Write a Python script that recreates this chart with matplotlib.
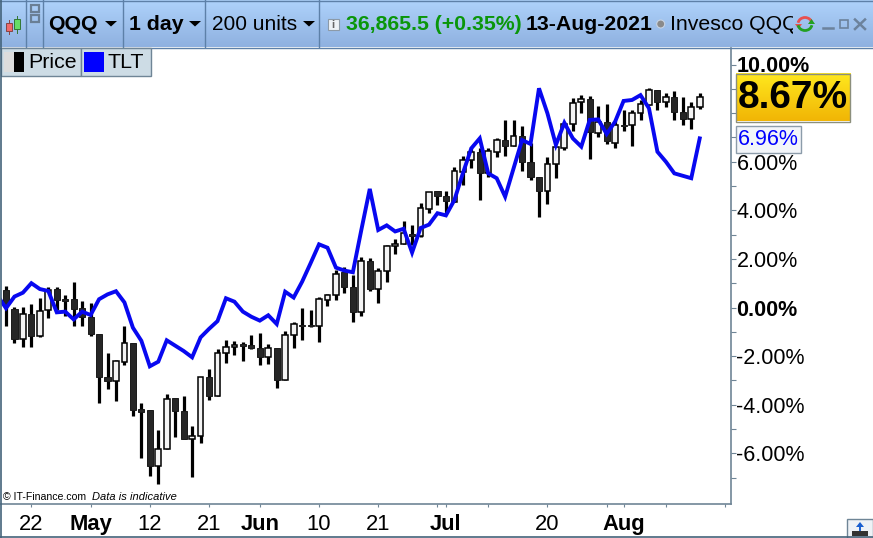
import numpy as np
import matplotlib
matplotlib.use("Agg")
import matplotlib.pyplot as plt
from matplotlib.patches import Rectangle, Polygon, Circle, Arc

plt.rcParams['font.family'] = ['Liberation Sans', 'DejaVu Sans']

# ---------- data (percent change) ----------
opens = [.72,-.08,-1.31,-.28,-1.19,-.12,.76,.35,.34,-.03,-.40,-1.09,-2.85,-3.04,-2.23,-1.46,-4.16,-4.22,-6.54,-5.84,
         -3.72,-4.27,-5.43,-5.30,-2.87,-3.66,-1.89,-1.63,-1.50,-1.54,-1.67,-2.05,-1.67,-3.00,-1.13,-.72,-.72,-.77,.32,.50,
         1.45,.86,-.20,1.91,.75,1.49,2.52,2.60,3.02,2.93,4.07,4.79,4.59,4.35,5.59,6.07,6.40,5.53,6.41,6.89,
         6.63,7.05,5.99,5.36,4.78,5.89,6.58,7.54,8.44,8.57,7.19,7.65,6.78,7.51,7.50,7.99,8.35,8.95,8.44,8.65,
         8.05,7.74,8.26]
closes = [.10,-1.30,-.28,-1.17,-.13,.72,.31,.28,-.05,-.38,-1.08,-2.85,-3.01,-2.22,-1.47,-4.20,-4.29,-6.51,-5.84,-3.78,
          -4.25,-5.41,-5.30,-2.87,-3.63,-1.89,-1.64,-1.56,-1.60,-1.65,-2.02,-1.68,-2.98,-1.15,-.69,-.75,-.75,.35,.50,1.37,
          .86,-.17,1.90,.76,1.49,2.52,2.60,3.05,2.94,4.08,4.74,4.59,4.40,5.60,6.07,6.39,5.55,6.44,6.89,6.65,
          7.05,5.99,5.38,4.81,5.89,6.59,7.54,8.40,8.57,7.23,7.65,6.85,7.50,7.48,7.99,8.36,8.95,8.47,8.65,8.06,
          7.76,8.26,8.67]
highs = [.89,.04,.04,.14,.39,.83,.83,.52,1.04,.25,.17,-1.09,-1.89,-2.16,-.76,-1.46,-3.94,-4.22,-5.04,-3.57,
         -3.72,-3.64,-4.88,-2.87,-2.53,-1.71,-1.34,-1.38,-1.43,-1.13,-1.05,-1.52,-1.67,-.97,-.61,-.03,-.10,.43,.54,1.54,
         1.65,1.34,2.07,2.05,1.61,2.57,2.82,3.56,3.40,4.29,4.77,4.79,4.79,5.77,6.23,6.60,6.56,6.56,6.96,7.72,
         7.72,7.47,6.77,5.36,6.18,6.60,7.65,8.62,8.73,8.69,8.29,8.37,7.72,8.13,8.13,8.54,9.02,8.95,8.81,8.91,
         8.65,8.44,8.81]
lows = [-.75,-1.47,-1.61,-1.61,-1.20,-.42,-.10,-.34,-.75,-.75,-1.16,-3.92,-3.34,-3.83,-2.35,-4.45,-6.18,-6.92,-7.25,-5.84,
        -5.32,-5.43,-6.96,-5.56,-3.79,-3.66,-2.27,-1.94,-2.19,-1.72,-2.35,-2.31,-3.30,-3.00,-1.65,-1.34,-.81,-1.41,.07,.32,
        .61,-.58,-.34,.69,.20,1.06,2.21,2.60,2.57,2.91,3.90,4.22,3.88,4.35,5.04,5.73,4.42,5.36,6.21,6.23,
        6.63,5.62,5.25,3.74,4.26,5.34,6.48,7.26,8.02,6.11,7.03,6.73,6.56,7.26,6.65,7.72,8.33,8.13,8.26,7.72,
        7.51,7.35,8.17]
tlt_leading = [.49]
tlt = [-.03,.45,.61,1.00,.76,.68,-.20,-.17,-.49,-.17,-.31,.34,.54,.67,.21,-.83,-1.37,-2.42,-2.23,-1.35,
       -1.57,-1.79,-2.05,-1.23,-.88,-.56,.38,.24,-.17,-.38,-.54,-.32,-.68,.65,.41,1.06,1.82,2.60,2.46,1.64,
       1.52,1.45,3.19,4.88,3.19,3.38,3.13,3.24,2.26,3.27,3.41,3.88,3.79,4.42,5.52,6.55,6.96,5.52,5.32,4.56,
       5.73,6.89,6.73,9.02,7.99,6.69,7.60,6.96,6.62,7.72,7.74,7.14,7.65,8.50,8.54,8.74,8.20,6.41,6.00,5.52,
       5.42,5.32,6.96]

x_ticks = [3,10,17,24,30,37,44,51,52,57,64,71,73,78,85]
x_labels = ['22','May','12','21','Jun','10','21','','Jul','','20','','Aug','','']
y_ticks = [-6,-4,-2,0,2,4,6,8,10]
y_labels = ['-6.00%','-4.00%','-2.00%','0.00%','2.00%','4.00%','6.00%','','10.00%']
bold_labels = ['May','Jun','Jul','Aug','0.00%','10.00%']

W, H = 873, 538
fig = plt.figure(figsize=(W/100, H/100), dpi=100, facecolor='white')

# ---------- main chart ----------
L, R, T, B = 1.0, 730.5, 48.0, 503.5
ax = fig.add_axes([L/W, 1-B/H, (R-L)/W, (B-T)/H])
ax.set_xlim((L-6)/8.46, (R-6)/8.46)
ax.set_ylim((307.5-B)/24.3, (307.5-T)/24.3)

idx = np.arange(len(opens))
o, c, h, l = map(np.array, (opens, closes, highs, lows))
up = c >= o
ax.vlines(idx, l, h, color='black', lw=2.3, zorder=2, capstyle='butt')
ax.bar(idx[~up], np.abs(c-o)[~up], bottom=np.minimum(o, c)[~up], width=0.72,
       color='#262626', edgecolor='#1a1a1a', linewidth=0.7, zorder=3)
ax.bar(idx[up], np.abs(c-o)[up], bottom=np.minimum(o, c)[up], width=0.68,
       color='#f4f4f4', edgecolor='black', linewidth=1.1, zorder=3)
line_x = np.arange(-1, len(tlt))
ax.plot(line_x, tlt_leading+tlt, color='#0808f0', lw=2.8, zorder=4, solid_joinstyle='miter')

for s in ('top', 'left'):
    ax.spines[s].set_visible(False)
for s in ('right', 'bottom'):
    ax.spines[s].set_color('#6f8596')
    ax.spines[s].set_linewidth(1.2)

ax.yaxis.tick_right()
ax.set_yticks(y_ticks)
ax.set_yticklabels(y_labels, fontsize=15.5)
ax.set_yticks(np.arange(-7, 10, 2), minor=True)
ax.tick_params(axis='y', which='major', length=3.5, width=0.8, color='#6f8596', pad=0.8)
ax.tick_params(axis='y', which='minor', length=3.5, width=0.8, color='#6f8596')
ax.set_xticks(x_ticks)
ax.set_xticklabels(x_labels, fontsize=15.8)
ax.tick_params(axis='x', length=2.5, width=0.8, color='#6f8596', pad=5)
for t in ax.get_xticklabels()+ax.get_yticklabels():
    if t.get_text() in bold_labels:
        t.set_fontweight('bold')

# ---------- chrome (pixel coordinates) ----------
ov = fig.add_axes([0, 0, 1, 1], zorder=5)
ov.patch.set_alpha(0)
ov.axis('off')

def vgrad(x0, x1, y0, y1, c0, c1, z=1):
    a = np.array(matplotlib.colors.to_rgb(c0))
    b = np.array(matplotlib.colors.to_rgb(c1))
    t = np.linspace(0, 1, 64)[:, None, None]
    ov.imshow(a*(1-t)+b*t, extent=(x0, x1, y1, y0), aspect='auto', zorder=z, interpolation='bilinear')

vgrad(0, W, 0, 47, '#aed2fb', '#8fb1e0')
ov.plot([0, W], [47.5, 47.5], color='#5d80a8', lw=1.0, zorder=2)
ov.plot([0, W], [0.5, 0.5], color='#5d80a8', lw=1.0, zorder=2)
for xs in (25.7, 43.3, 123.3, 205.3, 319.3):
    ov.plot([xs, xs], [0, 47], color='#5d80a8', lw=1.0, zorder=2)
ov.plot([0.5, 0.5], [0, H], color='#44637a', lw=1.2, zorder=6)
ov.plot([0, W], [537.4, 537.4], color='#44637a', lw=1.2, zorder=6)

# toolbar icons
ov.add_patch(Rectangle((5.5, 23), 6, 8, fc='#f06a6a', ec='#884444', lw=.7, zorder=3))
ov.plot([8.5, 8.5], [20, 34], color='#884444', lw=.7, zorder=2.9)
ov.add_patch(Rectangle((14, 19), 6, 10, fc='#66dd66', ec='#337733', lw=.7, zorder=3))
ov.plot([17, 17], [16, 33], color='#337733', lw=.7, zorder=2.9)
for cy in (8.5, 18):
    ov.add_patch(Rectangle((30.5, cy-3.5), 8, 7, fc='none', ec='#6a7f95', lw=1.6, zorder=3))
for tx in (105, 189, 303):
    ov.add_patch(Polygon([(tx, 21), (tx+12, 21), (tx+6, 26.5)], fc='black', ec='none', zorder=3))
ov.add_patch(Rectangle((327.5, 19), 11, 11, fc='#eef2f6', ec='#8c9aa8', lw=.8, zorder=3))
ov.text(333, 24.7, 'i', fontsize=8, fontweight='bold', color='#666666', ha='center', va='center', zorder=4)

def tb(x, s, **kw):
    kw.setdefault('fontsize', 15.3)
    kw.setdefault('color', 'black')
    return ov.text(x, 24.5, s, ha='left', va='center', zorder=4, **kw)

tb(48, 'QQQ', fontweight='bold')
tb(129, '1 day', fontweight='bold')
tb(212, '200 units', fontsize=15)
tb(346.5, '36,865.5 (+0.35%)', fontweight='bold', color='#0a960a')
tb(526, '13-Aug-2021', fontweight='bold')
ov.add_patch(Circle((660.7, 24), 4, fc='#8a8a8a', ec='#c8d4e4', lw=.8, zorder=3))
inv = tb(670.5, 'Invesco QQQ')
inv.set_clip_path(Rectangle((660, 0), 133, 47, transform=ov.transData))
inv.set_clip_on(True)

# refresh icon
ov.add_patch(Arc((805, 24), 14, 13, theta1=190, theta2=350, color='#e85050', lw=2, zorder=4))
ov.add_patch(Polygon([(795, 24), (802, 24), (798.5, 29)], fc='#e85050', ec='none', zorder=4))
ov.add_patch(Arc((805, 24), 14, 13, theta1=10, theta2=170, color='#22a022', lw=2, zorder=4))
ov.add_patch(Polygon([(808, 24), (815, 24), (811.5, 19)], fc='#22a022', ec='none', zorder=4))
# window buttons
ov.plot([823, 833], [28, 28], color='#6c829c', lw=1.8, zorder=4)
ov.add_patch(Rectangle((839.5, 20), 8.5, 8, fc='none', ec='#6c829c', lw=1.2, zorder=4))
ov.plot([855, 865], [19.5, 29], color='#6c829c', lw=1.8, zorder=4)
ov.plot([855, 865], [29, 19.5], color='#6c829c', lw=1.8, zorder=4)

# legend strip
ov.add_patch(Rectangle((1, 48), 79.5, 28.3, fc='#cddce5', ec='#6f8596', lw=1, zorder=3))
ov.add_patch(Rectangle((80.5, 48), 70, 28.3, fc='#cddce5', ec='#6f8596', lw=1, zorder=3))
ov.add_patch(Rectangle((4, 52), 10, 19.7, fc='#dcdcdc', ec='none', zorder=4))
ov.add_patch(Rectangle((14, 52), 10, 19.7, fc='black', ec='none', zorder=4))
ov.add_patch(Rectangle((84, 52), 20, 19.7, fc='#0000ff', ec='none', zorder=4))
ov.text(28, 62.5, 'Price', fontsize=15.4, va='center', ha='left', zorder=4)
ov.text(108, 62.5, 'TLT', fontsize=15.4, va='center', ha='left', zorder=4)

# value flags
vgrad(735.5, 850, 73.5, 121.5, '#ffe81e', '#f1b505', z=3)
ov.add_patch(Rectangle((735.5, 73.5), 114.5, 48, fc='none', ec='#8c8f7c', lw=1, zorder=4))
ov.text(792.5, 98, '8.67%', fontsize=28, fontweight='bold', ha='center', va='center', zorder=5)
ov.add_patch(Rectangle((736, 125.7), 65, 27.3, fc='#f2f5f9', ec='#8c9caa', lw=1, zorder=4))
ov.text(737.5, 139.5, '6.96%', fontsize=15.5, color='#0000ff', ha='left', va='center', zorder=5)

# copyright
ov.text(3, 496.5, '\u00a9 IT-Finance.com', fontsize=7.6, ha='left', va='center', zorder=5)
ov.text(92, 496.5, 'Data is indicative', fontsize=8.0, style='italic', ha='left', va='center', zorder=5)

# bottom-right button
ov.add_patch(Rectangle((847, 519), 26, 19, fc='#eef2f6', ec='#6f8596', lw=1, zorder=5))
ov.add_patch(Polygon([(860, 522), (864, 527), (856, 527)], fc='#1a5fd0', ec='none', zorder=6))
ov.plot([860, 860], [526, 530], color='#1a5fd0', lw=1.4, zorder=6)
ov.add_patch(Rectangle((852, 531), 16, 4.5, fc='#333333', ec='none', zorder=6))

ov.set_xlim(0, W)
ov.set_ylim(H, 0)

fig.savefig('out.png', dpi=100, facecolor='white')
